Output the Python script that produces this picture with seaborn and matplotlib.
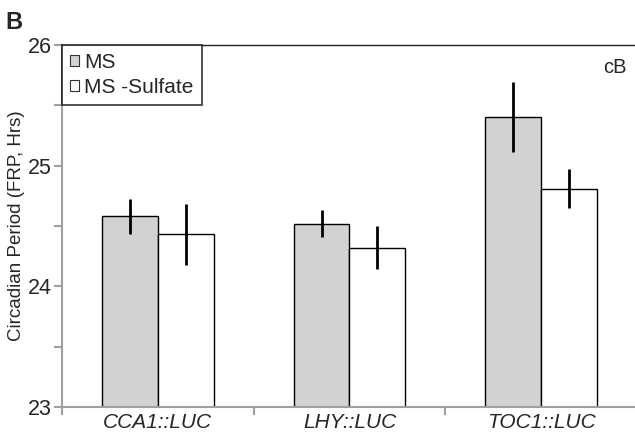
import matplotlib
matplotlib.use("Agg")
import matplotlib.pyplot as plt
import seaborn as sns
import pandas as pd
import numpy as np
from matplotlib.ticker import MultipleLocator, FixedLocator
from matplotlib.patches import Patch

categories = ["CCA1::LUC", "LHY::LUC", "TOC1::LUC"]
conditions = ["MS", "MS -Sulfate"]
ms_values = [24.58, 24.52, 25.40]
ms_errors = [0.145, 0.11, 0.29]
sulf_values = [24.43, 24.32, 24.81]
sulf_errors = [0.25, 0.18, 0.16]
colors = ["#d1d2d4", "#ffffff"]

df = pd.DataFrame({
    "gene": categories * 2,
    "cond": [conditions[0]] * 3 + [conditions[1]] * 3,
    "val": ms_values + sulf_values,
    "err": ms_errors + sulf_errors,
})

sns.set_style("white")
plt.rcParams["font.family"] = ["Liberation Sans", "DejaVu Sans"]

fig = plt.figure(figsize=(6.35, 4.32), dpi=100)
ax = fig.add_axes([62 / 635, 25 / 432, 575 / 635, 362 / 432])

sns.barplot(data=df, x="gene", y="val", hue="cond", order=categories,
            hue_order=conditions, palette=colors, errorbar=None,
            width=0.583, edgecolor="black", linewidth=1.0, ax=ax,
            legend=False)

# error bars from bar geometry
for cont, cond in zip(ax.containers, conditions):
    sub = df[df["cond"] == cond].set_index("gene").loc[categories]
    xs = [p.get_x() + p.get_width() / 2 for p in cont.patches]
    ax.errorbar(xs, sub["val"].values, yerr=sub["err"].values, fmt="none",
                ecolor="black", elinewidth=2.0, capsize=0, zorder=5)

ax.set_ylim(23, 26)
ax.set_xlim(-0.5, 2.5)
ax.yaxis.set_minor_locator(MultipleLocator(0.5))
ax.set_yticks([23, 24, 25, 26])
ax.tick_params(axis="y", which="both", direction="out", length=6, width=1.5,
               color="#a0a0a0", left=True, labelsize=15.5, pad=1.5)

ax.xaxis.set_major_locator(FixedLocator([0, 1, 2]))
ax.xaxis.set_minor_locator(FixedLocator([-0.5, 0.5, 1.5, 2.5]))
ax.tick_params(axis="x", which="major", length=0, labelsize=15, pad=4)
ax.tick_params(axis="x", which="minor", direction="out", length=6, width=1.5,
               color="#a0a0a0", bottom=True)
for lbl in ax.get_xticklabels():
    lbl.set_fontstyle("italic")
ax.set_xlabel("")
ax.set_ylabel("Circadian Period (FRP, Hrs)", fontsize=13.5, labelpad=2)

for s in ["left", "bottom"]:
    ax.spines[s].set_color("#a0a0a0")
    ax.spines[s].set_linewidth(1.5)
ax.spines["top"].set_color("#222222")
ax.spines["top"].set_linewidth(1.0)
ax.spines["right"].set_visible(False)

handles = [Patch(facecolor=c, edgecolor="#333333", linewidth=0.8) for c in colors]
leg = ax.legend(handles, conditions, loc="upper left", bbox_to_anchor=(0.0, 1.0),
                fontsize=15, frameon=True, fancybox=False, borderpad=0.38,
                handlelength=0.45, handleheight=0.45, handletextpad=0.25,
                labelspacing=0.3, borderaxespad=0.0)
leg.get_frame().set_edgecolor("black")
leg.get_frame().set_linewidth(1.2)

ax.text(0.982, 0.965, "cB", transform=ax.transAxes, ha="right", va="top",
        fontsize=14.5)
fig.text(5 / 635, 1 - 11 / 432, "B", fontsize=17, fontweight="bold",
         ha="left", va="top")

fig.savefig("out.png", dpi=100)
